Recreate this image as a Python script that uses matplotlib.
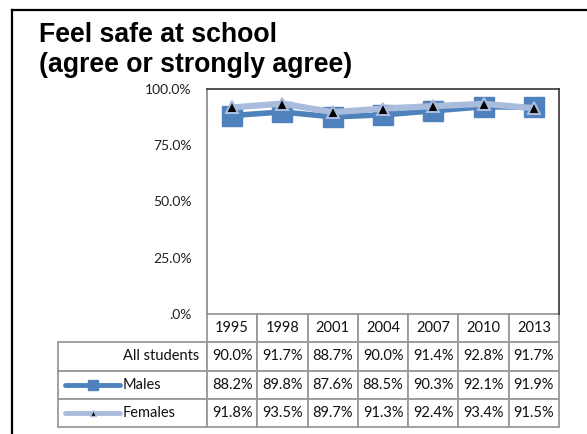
import matplotlib
matplotlib.use("Agg")
import matplotlib.pyplot as plt
from matplotlib.lines import Line2D
from matplotlib.table import Table

plt.rcParams["font.family"] = ["Lato", "DejaVu Sans"]

# data
years = ["1995", "1998", "2001", "2004", "2007", "2010", "2013"]
all_students = [90.0, 91.7, 88.7, 90.0, 91.4, 92.8, 91.7]
males = [88.2, 89.8, 87.6, 88.5, 90.3, 92.1, 91.9]
females = [91.8, 93.5, 89.7, 91.3, 92.4, 93.4, 91.5]
row_labels = ["All students", "Males", "Females"]
y_ticks = [0, 25, 50, 75, 100]
y_tick_labels = [".0%", "25.0%", "50.0%", "75.0%", "100.0%"]

male_color = "#4F81BD"
female_color = "#A9BCDC"
grid_color = "#999999"

W, H = 587, 434
fig = plt.figure(figsize=(W / 100, H / 100), dpi=100)


def px_box(left, top, right, bottom):
    return [left / W, 1 - bottom / H, (right - left) / W, (bottom - top) / H]


# plot area in pixels: x 207..559, y 89..314
AX_L, AX_R, AX_T, AX_B = 207, 559, 89, 314
ax_w, ax_h = AX_R - AX_L, AX_B - AX_T
ax = fig.add_axes(px_box(AX_L, AX_T, AX_R, AX_B))
x = list(range(len(years)))

ax.plot(x, [v / 100 for v in males], color=male_color, lw=4, marker="s",
        markersize=14, markerfacecolor=male_color, markeredgecolor=male_color,
        zorder=3)
ax.plot(x, [v / 100 for v in females], color=female_color, lw=4.5, marker="^",
        markersize=9, markerfacecolor="black", markeredgecolor=female_color,
        markeredgewidth=1.5, zorder=4)

ax.set_xlim(-0.5, len(years) - 0.5)
ax.set_ylim(0, 1)
ax.set_xticks([])
ax.set_yticks([t / 100 for t in y_ticks])
ax.set_yticklabels(y_tick_labels)
ax.tick_params(axis="y", length=0, pad=11, labelsize=10, labelcolor="#222222")

ax.spines["top"].set_color("#333333")
ax.spines["right"].set_color("#333333")
ax.spines["left"].set_color("#868686")
ax.spines["bottom"].set_visible(False)
for s in ["top", "right", "left"]:
    ax.spines[s].set_linewidth(1.2)

# data table under the plot, sizes in axes units
tbl_h = (427 - AX_B) / ax_h
col_w = 1 / len(years)
row_h = tbl_h / 4
label_w = (AX_L - 58) / ax_w
tbl = Table(ax, bbox=[0, -tbl_h, 1, tbl_h])
for j, yr in enumerate(years):
    tbl.add_cell(0, j, col_w, row_h, text=yr, loc="center")
for i, (label, vals) in enumerate(zip(row_labels, [all_students, males, females]), start=1):
    if i == 1:
        c = tbl.add_cell(i, -1, label_w, row_h, text=label, loc="right")
        c.PAD = 8 / (AX_L - 58)
    else:
        c = tbl.add_cell(i, -1, label_w, row_h, text=label, loc="left")
        c.PAD = 65 / (AX_L - 58)
    for j, v in enumerate(vals):
        tbl.add_cell(i, j, col_w, row_h, text=f"{v:.1f}%", loc="center")

tbl.auto_set_font_size(False)
tbl.set_fontsize(10.5)
for cell in tbl.get_celld().values():
    cell.set_edgecolor(grid_color)
    cell.set_linewidth(1.3)
    cell.get_text().set_color("#111111")
ax.add_table(tbl)

# legend keys inside the row label cells
keys = [(385, male_color, "s", 7, male_color),
        (413, female_color, "^", 4.5, "black")]
for row_y, color, mk, ms, face in keys:
    yy = (AX_B - row_y) / ax_h
    x0, x1 = (65 - AX_L) / ax_w, (120 - AX_L) / ax_w
    ax.add_line(Line2D([x0, x1], [yy, yy], transform=ax.transAxes, color=color,
                       lw=3.5, solid_capstyle="round", clip_on=False))
    ax.add_line(Line2D([(x0 + x1) / 2], [yy], transform=ax.transAxes, lw=0,
                       marker=mk, markersize=ms, markerfacecolor=face,
                       markeredgecolor=color, clip_on=False))

fig.text(39 / W, 1 - 21.5 / H, "Feel safe at school\n(agree or strongly agree)",
         family="Liberation Sans", fontweight="bold", fontsize=19.2,
         va="top", ha="left", linespacing=1.2)

# outer frame (only the left and top edges fall inside the image)
fig.add_artist(Line2D([12 / W, 12 / W], [0, 1 - 10 / H], transform=fig.transFigure,
                      color="black", lw=1.6))
fig.add_artist(Line2D([12 / W, 1], [1 - 10 / H, 1 - 10 / H], transform=fig.transFigure,
                      color="black", lw=1.6))

fig.savefig("out.png", dpi=100)
